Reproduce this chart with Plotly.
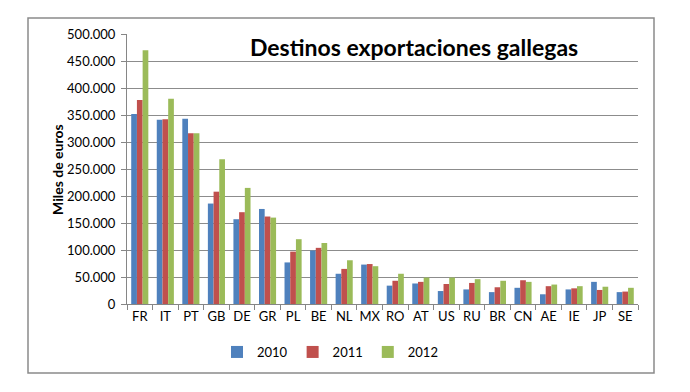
import plotly.graph_objects as go

countries = ["FR", "IT", "PT", "GB", "DE", "GR", "PL", "BE", "NL", "MX",
             "RO", "AT", "US", "RU", "BR", "CN", "AE", "IE", "JP", "SE"]
v2010 = [352000, 341000, 343000, 186000, 157000, 176000, 77000, 99000, 56000, 73000,
         34000, 38000, 24000, 27000, 22000, 30000, 18000, 27000, 41000, 22000]
v2011 = [378000, 342000, 316000, 208000, 170000, 162000, 97000, 104000, 65000, 74000,
         43000, 41000, 37000, 39000, 31000, 44000, 33000, 29000, 26000, 23000]
v2012 = [470000, 380000, 316000, 268000, 215000, 160000, 120000, 113000, 81000, 70000,
         56000, 49000, 49000, 46000, 43000, 41000, 36000, 33000, 32000, 30000]
years = ["2010", "2011", "2012"]
colors = ["#4F81BD", "#C0504D", "#9BBB59"]

FONT = "Lato, Calibri, sans-serif"

fig = go.Figure()
for name, vals, col in zip(years, [v2010, v2011, v2012], colors):
    fig.add_trace(go.Bar(x=countries, y=vals, name=name,
                         marker=dict(color=col, line=dict(width=0))))

W, H = 690, 392
L, R, T, B = 127, 638, 34, 304
pw, ph = R - L, B - T

def px(x):
    return (x - L) / pw

def py(y):
    return (B - y) / ph

fig.update_layout(
    width=W, height=H,
    margin=dict(l=L, r=W - R, t=T, b=H - B, pad=0),
    paper_bgcolor="white", plot_bgcolor="white",
    separators=",.",
    font=dict(family=FONT, size=13, color="#000000"),
    barmode="group", bargap=0.33, bargroupgap=0,
    showlegend=True,
    legend=dict(orientation="h", x=px(330), y=py(352), xanchor="center", yanchor="middle",
                font=dict(size=13, family=FONT), itemwidth=30, tracegroupgap=0,
                bgcolor="rgba(0,0,0,0)"),
    xaxis=dict(type="category", showline=True, linecolor="#868686", linewidth=1,
               ticks="outside", tickson="boundaries", ticklen=5, tickcolor="#868686",
               showgrid=False, tickfont=dict(size=13, family=FONT), tickangle=0,
               automargin=False, fixedrange=True),
    yaxis=dict(range=[0, 500000], dtick=50000, tickformat=",d", showline=True,
               linecolor="#868686", linewidth=1, ticks="outside", ticklen=5,
               tickcolor="#868686", showgrid=True, gridcolor="#8C8C8C", gridwidth=1,
               zeroline=False, tickfont=dict(size=13, family=FONT), ticklabelstandoff=3,
               automargin=False, fixedrange=True),
    shapes=[dict(type="rect", xref="paper", yref="paper",
                 x0=px(28), x1=px(654), y0=py(373), y1=py(18),
                 line=dict(color="#8A8A8A", width=1.5), layer="below")],
    annotations=[
        dict(text="<b>Destinos exportaciones gallegas</b>", xref="paper", yref="paper",
             x=px(414), y=py(47), xanchor="center", yanchor="middle", showarrow=False,
             font=dict(size=23, family=FONT, color="#000000")),
        dict(text="<b>Miles de euros</b>", xref="paper", yref="paper",
             x=px(57), y=py(170), xanchor="center", yanchor="middle", showarrow=False,
             textangle=-90, font=dict(size=14, family=FONT, color="#000000")),
    ],
)

fig.write_html("out.html", config={"displayModeBar": False},
               post_script="document.body.style.margin='0';")
